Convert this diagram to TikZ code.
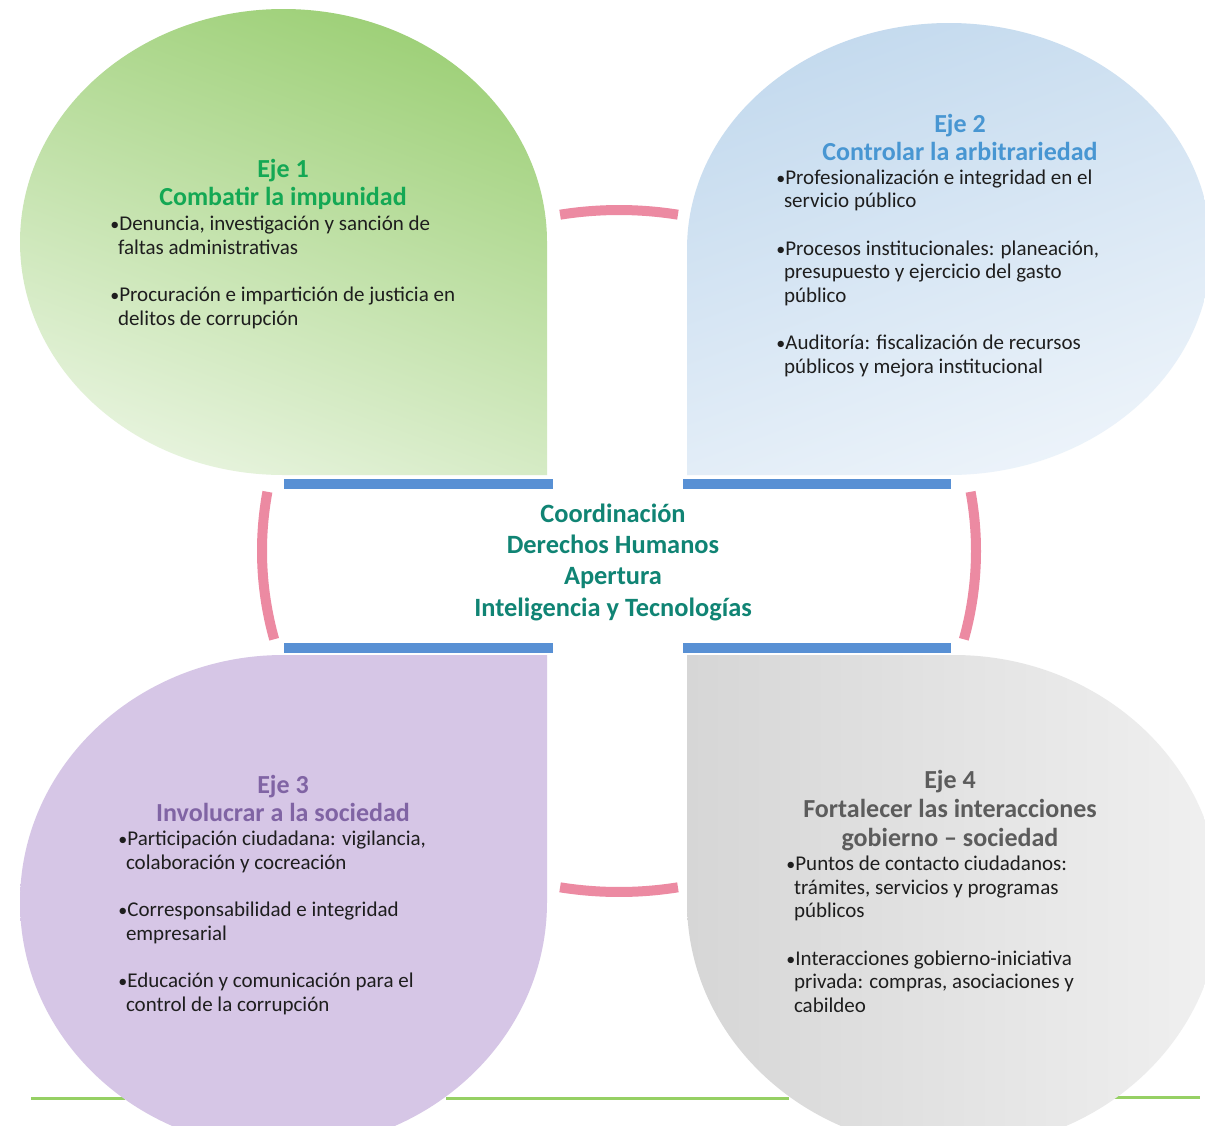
\documentclass[tikz,border=0pt]{standalone}
\usepackage{fontspec}
\setmainfont{Carlito}
\definecolor{grnA}{RGB}{205,231,185}
\definecolor{grnB}{RGB}{158,208,120}
\definecolor{bluA}{RGB}{196,218,238}
\definecolor{bluB}{RGB}{236,243,250}
\definecolor{purA}{RGB}{214,198,230}
\definecolor{purB}{RGB}{236,228,244}
\definecolor{gryA}{RGB}{214,214,214}
\definecolor{gryB}{RGB}{240,240,240}
\definecolor{barblue}{RGB}{88,144,212}
\definecolor{ringpink}{RGB}{236,138,162}
\definecolor{footgreen}{RGB}{150,208,100}
\definecolor{ttlgreen}{RGB}{20,168,84}
\definecolor{ttlblue}{RGB}{72,150,210}
\definecolor{ttlpurple}{RGB}{128,100,164}
\definecolor{ttlgray}{RGB}{92,92,92}
\definecolor{ttlteal}{RGB}{16,132,116}
\definecolor{bodytext}{RGB}{30,30,30}
\newcommand{\bul}{{\small •}}
\newcommand{\cont}{\hspace*{3.8pt}}

\begin{document}
\begin{tikzpicture}[x=0.5pt, y=-0.5pt,
    bar/.style={line width=5pt, draw=barblue},
    ring/.style={line width=5pt, draw=ringpink},
    title/.style={font=\bfseries\fontsize{13}{13.75}\selectfont, align=center, anchor=base, inner sep=0pt},
    items/.style={font=\fontsize{10.5}{11.75}\selectfont, text=bodytext, align=left, anchor=base west, inner sep=0pt}
  ]
  \clip (0,0) rectangle (1205,1125);
  \fill[white] (0,0) rectangle (1205,1125);

  % footer line, only seen between the lower petals
  \draw[line width=1.5pt, footgreen] (31,1098) -- (125,1098);
  \draw[line width=1.5pt, footgreen] (446,1098) -- (789,1098);
  \draw[line width=1.5pt, footgreen] (1114,1097) -- (1200,1097);

  % the four petals
  \shade[left color=grnB, middle color=grnA, right color=grnA!50, shading angle=-20]
    (547,242) arc[start angle=0, end angle=-270, x radius=263.5, y radius=233] -- (547,475) -- cycle;
  \shade[left color=bluA, middle color=bluA!80, right color=bluB, shading angle=20]
    (687,249) arc[start angle=180, end angle=450, x radius=262, y radius=226] -- (687,475) -- cycle;
  \shade[left color=purA, middle color=purB, right color=purA]
    (547,902) arc[start angle=0, end angle=270, x radius=263.5, y radius=247] -- (547,655) -- cycle;
  \shade[left color=gryA, middle color=gryA!70, right color=gryB]
    (687,902) arc[start angle=180, end angle=-90, x radius=266.5, y radius=247] -- (687,655) -- cycle;

  % pink ring pieces
  \draw[ring] (619,551) ++(260.5:357 and 341) arc[start angle=260.5, end angle=279.5, x radius=357, y radius=341];
  \draw[ring] (619,551) ++(80.5:357 and 341) arc[start angle=80.5, end angle=99.5, x radius=357, y radius=341];
  \draw[ring] (619,551) ++(165:357 and 341) arc[start angle=165, end angle=190, x radius=357, y radius=341];
  \draw[ring] (619,551) ++(-10:357 and 341) arc[start angle=-10, end angle=15, x radius=357, y radius=341];

  % blue bars round the centre
  \draw[bar] (284,484) -- (553,484);
  \draw[bar] (683,484) -- (951,484);
  \draw[bar] (284,648) -- (553,648);
  \draw[bar] (683,648) -- (951,648);

  % centre (base = last line)
  \node[font=\bfseries\fontsize{13.2}{15.6}\selectfont, text=ttlteal, align=center, anchor=base, inner sep=0pt] (core) at (613,616)
    {Coordinación\\Derechos Humanos\\Apertura\\Inteligencia y Tecnologías};

  % eje 1
  \node[title, text=ttlgreen] (eje1) at (283,205) {Eje 1\\Combatir la impunidad};
  \node[items] (eje1list) at (110,325)
    {\bul Denuncia, investigación y sanción de\\
     \cont faltas administrativas\\[12pt]
     \bul Procuración e impartición de justicia en\\
     \cont delitos de corrupción};

  % eje 2
  \node[title, text=ttlblue] (eje2) at (960,160) {Eje 2\\Controlar la arbitrariedad};
  \node[items] (eje2list) at (776,373)
    {\bul Profesionalización e integridad en el\\
     \cont servicio público\\[12pt]
     \bul Procesos institucionales: planeación,\\
     \cont presupuesto y ejercicio del gasto\\
     \cont público\\[12pt]
     \bul Auditoría: fiscalización de recursos\\
     \cont públicos y mejora institucional};

  % eje 3
  \node[title, text=ttlpurple] (eje3) at (283,821) {Eje 3\\Involucrar a la sociedad};
  \node[items] (eje3list) at (118,1011)
    {\bul Participación ciudadana: vigilancia,\\
     \cont colaboración y cocreación\\[12pt]
     \bul Corresponsabilidad e integridad\\
     \cont empresarial\\[12pt]
     \bul Educación y comunicación para el\\
     \cont control de la corrupción};

  % eje 4
  \node[title, text=ttlgray, font=\bfseries\fontsize{13}{14.5}\selectfont] (eje4) at (950,846)
    {Eje 4\\Fortalecer las interacciones\\gobierno – sociedad};
  \node[items] (eje4list) at (786,1012)
    {\bul Puntos de contacto ciudadanos:\\
     \cont trámites, servicios y programas\\
     \cont públicos\\[12pt]
     \bul Interacciones gobierno-iniciativa\\
     \cont privada: compras, asociaciones y\\
     \cont cabildeo};
\end{tikzpicture}
\end{document}
